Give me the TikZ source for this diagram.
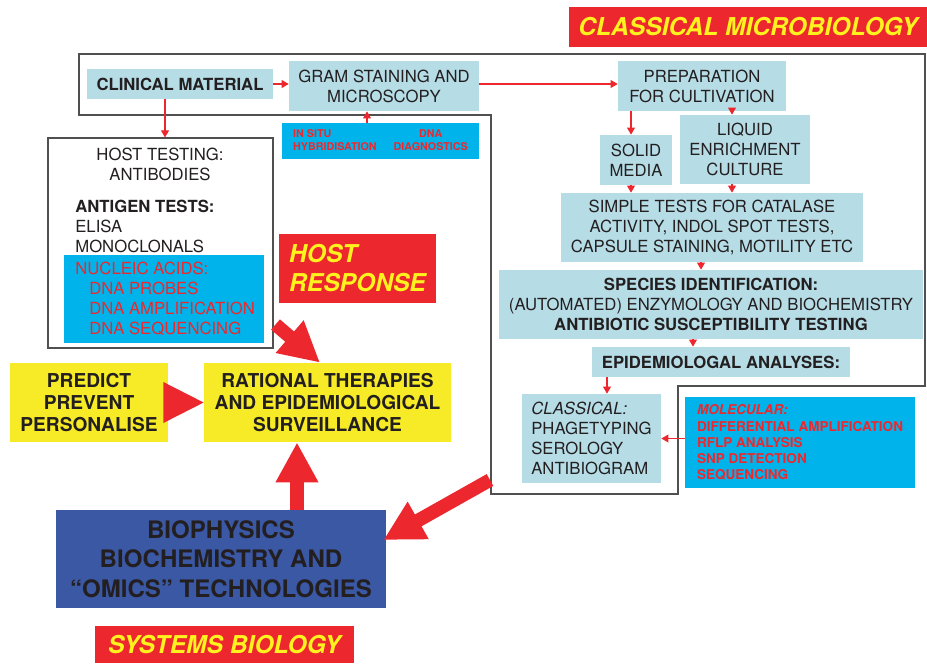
\documentclass[tikz,border=0pt]{standalone}
\usepackage{fontspec}
\setmainfont{TeX Gyre Heros}
\usetikzlibrary{arrows.meta,calc}

\definecolor{ink}{HTML}{231F20}
\definecolor{paleblue}{HTML}{B6DCE6}
\definecolor{cyanbox}{HTML}{00B4EB}
\definecolor{hotred}{HTML}{EC282E}
\definecolor{lemon}{HTML}{F6EB26}
\definecolor{sunny}{HTML}{FFF21F}
\definecolor{deepblue}{HTML}{3B58A5}
\definecolor{framegray}{HTML}{505050}

\tikzset{
  box/.style={inner sep=0pt, align=center, text=ink, font=\fontsize{9.5}{11.4}\selectfont},
  pale/.style={box, fill=paleblue},
  molbox/.style={box, fill=cyanbox, text=hotred},
  yelbox/.style={box, fill=lemon, font=\fontsize{10.9}{12.8}\selectfont\bfseries},
  banner/.style={box, fill=hotred, text=sunny, font=\fontsize{14}{16.5}\selectfont\bfseries\itshape},
  thinarrow/.style={draw=hotred, line width=0.6pt, -{Triangle[width=4.5pt,length=4pt]}},
  bigarrow/.style={draw=hotred, line width=7.7pt, -{Triangle[width=8mm,length=8mm]}},
}

\begin{document}
\begin{tikzpicture}[x=0.2mm,y=-0.2mm]
\useasboundingbox (0,0) rectangle (927,663);

% classical microbiology frame
\draw[framegray, line width=0.6pt] (79,54) -- (925,54) -- (925,386) -- (678,386) -- (678,494)
  -- (491,494) -- (491,115) -- (79,115) -- cycle;
\coordinate (cmtail) at (490,480);

\node[banner, minimum width=71.6mm, minimum height=8mm] (cmlabel) at (748,27) {CLASSICAL MICROBIOLOGY};

% top row
\node[pale, minimum width=37.2mm, minimum height=6mm, font=\fontsize{9.5}{11.4}\selectfont\bfseries] (clinical) at (180,84) {CLINICAL MATERIAL};
\node[pale, minimum width=38mm, minimum height=10mm] (gram) at (384,86) {GRAM STAINING AND\\MICROSCOPY};
\node[pale, minimum width=33.6mm, minimum height=10mm] (prep) at (702,86) {PREPARATION\\FOR CULTIVATION};
\node[molbox, minimum width=39.4mm, minimum height=7.2mm, font=\fontsize{6.1}{7.4}\selectfont\bfseries] (insitu) at (380.5,141)
  {\begin{tabular}{@{}l@{\hspace{3.4mm}}c@{}}IN SITU & DNA\\HYBRIDISATION & DIAGNOSTICS\end{tabular}};

% host testing
\node[draw=framegray, line width=0.6pt, fill=white, minimum width=45mm, minimum height=42mm, inner sep=0pt] (host) at (160.5,243) {};
\node[box] (hosttop) at (160,164) {HOST TESTING:\\ANTIBODIES};
\node[box, anchor=west, align=left] (antigen) at (75,226) {\textbf{ANTIGEN TESTS:}\\ELISA\\MONOCLONALS};
\node[molbox, minimum width=40mm, minimum height=17.6mm] (nucleicbox) at (164,299) {};
\node[box, text=hotred, anchor=west, align=left] (nucleic) at (75,299)
  {NUCLEIC ACIDS:\\\hspace*{2.8mm}DNA PROBES\\\hspace*{2.8mm}DNA AMPLIFICATION\\\hspace*{2.8mm}DNA SEQUENCING};
\node[banner, minimum width=31.4mm, minimum height=13.8mm, align=left] (hostresp) at (357.5,268.5) {HOST\\RESPONSE};

% cultivation column
\node[pale, minimum width=14.4mm, minimum height=10mm] (solid) at (636,160) {SOLID\\MEDIA};
\node[pale, minimum width=26mm, minimum height=13.8mm] (liquid) at (745,149.5) {LIQUID\\ENRICHMENT\\CULTURE};
\node[pale, minimum width=60.4mm, minimum height=13.8mm] (simple) at (712,227.5)
  {SIMPLE TESTS FOR CATALASE\\ACTIVITY, INDOL SPOT TESTS,\\CAPSULE STAINING, MOTILITY ETC};
\node[pale, minimum width=84.8mm, minimum height=13.8mm] (species) at (711,304.5)
  {\textbf{SPECIES IDENTIFICATION:}\\(AUTOMATED) ENZYMOLOGY AND BIOCHEMISTRY\\\textbf{ANTIBIOTIC SUSCEPTIBILITY TESTING}};
\node[pale, minimum width=51.6mm, minimum height=6mm, font=\fontsize{9.5}{11.4}\selectfont\bfseries] (epi) at (721,362) {EPIDEMIOLOGAL ANALYSES:};
\node[pale, minimum width=27.8mm, minimum height=17.8mm, align=left] (classical) at (591.5,438.5)
  {\textit{CLASSICAL:}\\PHAGETYPING\\SEROLOGY\\ANTIBIOGRAM};
\node[molbox, minimum width=46mm, minimum height=18.2mm, align=left, font=\fontsize{7.7}{9.2}\selectfont\bfseries] (molecular) at (800,442.5)
  {\textit{MOLECULAR:}\\DIFFERENTIAL AMPLIFICATION\\RFLP ANALYSIS\\SNP DETECTION\\SEQUENCING};

% systems biology part
\node[yelbox, minimum width=31.6mm, minimum height=15.8mm] (predict) at (89,402.5) {PREDICT\\PREVENT\\PERSONALISE};
\node[yelbox, minimum width=49.4mm, minimum height=15.8mm] (rational) at (327.5,402.5) {RATIONAL THERAPIES\\AND EPIDEMIOLOGICAL\\SURVEILLANCE};
\node[box, fill=deepblue, minimum width=66mm, minimum height=19.6mm, font=\fontsize{13.7}{16.8}\selectfont\bfseries] (bio) at (221,559)
  {BIOPHYSICS\\BIOCHEMISTRY AND\\“OMICS” TECHNOLOGIES};
\node[banner, minimum width=51.8mm, minimum height=7.4mm] (sysbio) at (224.5,644.5) {SYSTEMS BIOLOGY};

% thin arrows
\draw[thinarrow] (clinical.east) -- (clinical.east -| gram.west);
\draw[thinarrow] (gram.east |- clinical.east) -- (prep.west |- clinical.east);
\draw[thinarrow] (molecular.west |- classical.east) -- (classical.east);
\foreach \col/\dx/\from/\to in {clinical/-15/clinical.south/host.north, insitu/-13.5/insitu.north/gram.south,
    solid/-5/prep.south/solid.north, liquid/-13/prep.south/liquid.north,
    solid/-5/solid.south/simple.north, liquid/-13/liquid.south/simple.north,
    simple/-11/simple.south/species.north, species/-18/species.south/epi.north,
    classical/15.5/epi.south/classical.north}{
  \path (\col) ++(\dx,0) coordinate (col);
  \draw[thinarrow] (col |- \from) -- (col |- \to);
}

% big arrows
\draw[bigarrow] ($(host.south east)+(2,-24)$) -- ($(rational.north)+(-7.5,0)$);
\path (rational.south) ++(-30.5,0) coordinate (upx);
\draw[bigarrow] (upx |- bio.north) -- (upx);
\draw[bigarrow] (cmtail) -- ($(bio.east)+(-3,-19)$);
\fill[hotred] ($(predict.east)+(-5,-20.5)$) -- (rational.west) -- ($(predict.east)+(-5,20.5)$) -- cycle;
\end{tikzpicture}
\end{document}
